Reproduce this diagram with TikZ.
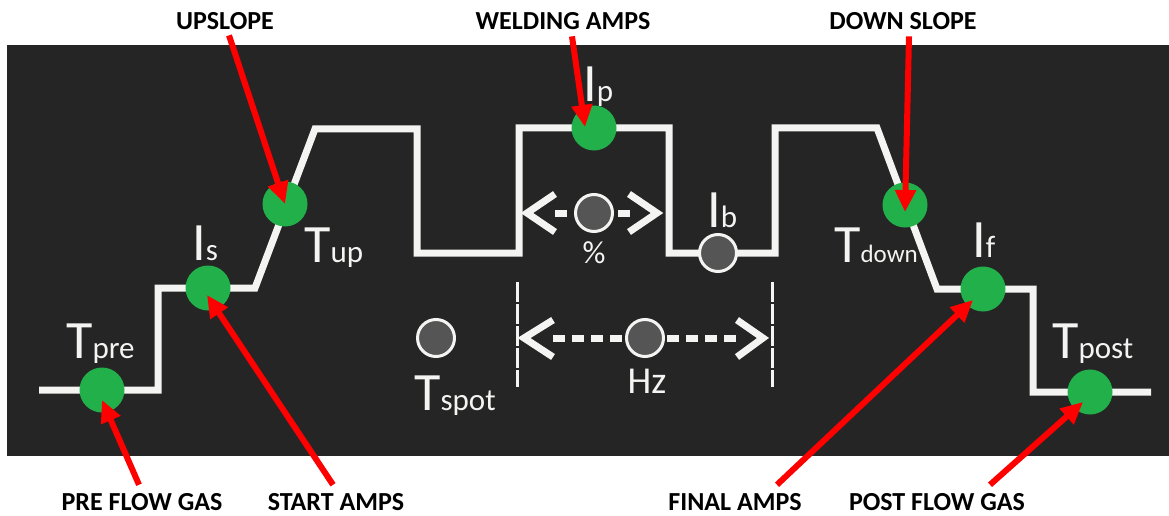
\documentclass[tikz,border=0pt]{standalone}
\usepackage{fontspec}
\setmainfont{Carlito}
\usetikzlibrary{arrows.meta}
\definecolor{bg}{HTML}{252525}
\definecolor{grn}{HTML}{22B04B}
\definecolor{gry}{HTML}{555555}
\definecolor{wht}{HTML}{F4F4F2}
\newcommand\wsym[3][31]{{\fontsize{54}{54}\selectfont #2}{\fontsize{#1}{#1}\selectfont #3}}
\begin{document}
\begin{tikzpicture}[x=1pt,y=-1pt,
 wave/.style={draw=wht, line width=7pt, line join=miter},
 gdot/.style={circle, fill=grn, minimum size=45pt, inner sep=0pt},
 sdot/.style={circle, fill=gry, draw=wht, line width=3pt, minimum size=37pt, inner sep=0pt},
 callout/.style={font=\fontsize{26}{26}\selectfont\bfseries, text=black, inner sep=0pt, anchor=base},
 sym/.style={text=wht, inner sep=0pt, anchor=base west},
 redarrow/.style={draw=red, line width=6pt, -{Triangle[length=22pt,width=20pt]}},
 chev/.style={draw=wht, line width=7pt, line join=miter},
 dsh/.style={draw=wht, line width=7pt, dash pattern=on 12pt off 7pt},
 vdash/.style={draw=wht, line width=3pt, dash pattern=on 20pt off 2pt}
]
\useasboundingbox (0,0) rectangle (1169,516);
\fill[white] (0,0) rectangle (1169,516);
\fill[bg] (7,45) rectangle (1169,456);

% waveform
\draw[wave] (39,390) -- (158,390) -- (158,288) -- (255,288) -- (315,129) -- (417,129)
  -- (417,253) -- (519,253) -- (519,128) -- (669,128) -- (669,253) -- (775,253)
  -- (775,128) -- (877,128) -- (937,289) -- (1033,289) -- (1033,392) -- (1151,392);

% vertical dashed limits
\draw[vdash] (517,282) -- (517,387);
\draw[vdash] (772,282) -- (772,387);

% green dots
\node[gdot] (tpre) at (102,390) {};
\node[gdot] (is) at (208,288) {};
\node[gdot] (tup) at (285,204) {};
\node[gdot] (ip) at (594,128) {};
\node[gdot] (tdown) at (905,205) {};
\node[gdot] (if) at (983,289) {};
\node[gdot] (tpost) at (1090,392) {};

% gray dots
\node[sdot] (ib) at (718,253) {};
\node[sdot] (pct) at (594,213) {};
\node[sdot] (tspot) at (436,338) {};
\node[sdot] (hz) at (645,338) {};

% duty cycle arrows
\draw[chev] (555,194) -- (527,213) -- (555,232);
\draw[chev] (629,194) -- (657,213) -- (629,232);
\draw[dsh] (555,213) -- (pct.west);
\draw[dsh] (pct.east) ++(4,0) -- (633,213);
% frequency arrows
\draw[chev] (553,320) -- (524,338) -- (553,357);
\draw[chev] (737,320) -- (763,338) -- (737,357);
\draw[dsh] (553,338) -- (hz.west);
\draw[dsh] (hz.east) ++(2,0) -- (740,338);

% symbol labels
\node[sym] (ltpre) at (66,358) {\wsym{T}{pre}};
\node[sym] (lis) at (192,260) {\wsym{I}{s}};
\node[sym] (ltup) at (304,262) {\wsym{T}{up}};
\node[sym] (lip) at (583,102) {\wsym{I}{p}};
\node[sym] (lib) at (707,227) {\wsym{I}{b}};
\node[sym] (ltspot) at (414,410) {\wsym{T}{spot}};
\node[sym] (ltdown) at (834,262) {\wsym[25]{T}{down}};
\node[sym] (lif) at (972,257) {\wsym{I}{f}};
\node[sym] (ltpost) at (1052,358) {\wsym{T}{post}};
\node[text=wht, inner sep=0pt, font=\fontsize{32}{32}\selectfont] (lpct) at (594,253) {\%};
\node[text=wht, inner sep=0pt, font=\fontsize{38}{38}\selectfont] (lhz) at (647,381) {Hz};

% callouts
\node[callout] (upslope) at (225,30) {UPSLOPE};
\node[callout] (welding) at (563,30) {WELDING AMPS};
\node[callout] (downslope) at (903,30) {DOWN SLOPE};
\node[callout] (preflow) at (142,510) {PRE FLOW GAS};
\node[callout] (start) at (336,510) {START AMPS};
\node[callout] (final) at (735,510) {FINAL AMPS};
\node[callout] (postflow) at (937,510) {POST FLOW GAS};

% red arrows
\draw[redarrow] ([shift={(4,5)}]upslope.south) -- (tup.center);
\draw[redarrow] ([shift={(9,6)}]welding.south) -- ([shift={(-9,-1)}]ip.center);
\draw[redarrow] ([shift={(6,6)}]downslope.south) -- ([shift={(0,7)}]tdown.center);
\draw[redarrow] ([shift={(-3,-8)}]preflow.north) -- ([shift={(0,10)}]tpre.center);
\draw[redarrow] ([shift={(-3,-8)}]start.north) -- ([shift={(-1,7)}]is.center);
\draw[redarrow] ([shift={(42,-8)}]final.north) -- ([shift={(-10,11)}]if.center);
\draw[redarrow] ([shift={(53,-8)}]postflow.north) -- ([shift={(-7,10)}]tpost.center);
\end{tikzpicture}
\end{document}
